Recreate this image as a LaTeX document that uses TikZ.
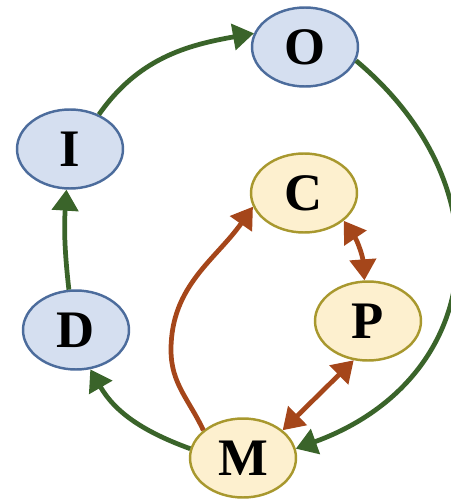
\documentclass[tikz,border=0pt]{standalone}
\usepackage{fontspec}
\setmainfont{Liberation Serif}
\usepackage{xcolor}
\usetikzlibrary{shapes,arrows.meta,positioning,calc}
\definecolor{stateBlue}{RGB}{213,223,240}
\definecolor{stateBlueLine}{RGB}{76,108,156}
\definecolor{stateYellow}{RGB}{253,240,207}
\definecolor{stateYellowLine}{RGB}{168,152,46}
\definecolor{flowGreen}{RGB}{58,100,42}
\definecolor{flowBrown}{RGB}{165,70,26}

\begin{document}
\begin{tikzpicture}[x=0.02cm, y=-0.02cm, >={Triangle[length=0.42cm,width=0.52cm]}]
    \tikzset{
        stateNode/.style={ellipse, line width=1.4pt, minimum width=2.12cm, minimum height=1.58cm, inner sep=0pt, font=\fontsize{30}{30}\selectfont\bfseries},
        outerState/.style={stateNode, draw=stateBlueLine, fill=stateBlue},
        innerState/.style={stateNode, draw=stateYellowLine, fill=stateYellow},
        greenFlow/.style={->, line width=2.7pt, draw=flowGreen},
        brownFlow/.style={line width=2.7pt, draw=flowBrown}
    }
    \useasboundingbox (0,0) rectangle (450,500);

    \node [outerState] (O) at (305,47) {O};
    \node [outerState] (I) at (70,149) {I};
    \node [outerState] (D) at (76,330) {D};
    \node [innerState] (C) at (304,193) {C};
    \node [innerState] (P) at (368,321) {P};
    \node [innerState] (M) at (243,458) {M};
    \coordinate (bendMC) at (171,350);

    % outer loop
    \draw [greenFlow] (D.100) to[bend left=5] (I.265);
    \draw [greenFlow] (I.50) to[out=55, in=190] (O.165);
    \draw [greenFlow] (O.-15) to[out=-40, in=20, looseness=1.3] (M.10);
    \draw [greenFlow] (M.170) to[out=160, in=-60] (D.290);

    % inner links
    \draw [brownFlow, ->] (M.145) to[out=115, in=-90] (bendMC) to[out=90, in=235] (C.195);
    \draw [brownFlow, <->] (C.-35) to[bend left=15] (P.95);
    \draw [brownFlow, <->] (P.250) -- (M.35);
\end{tikzpicture}
\end{document}
